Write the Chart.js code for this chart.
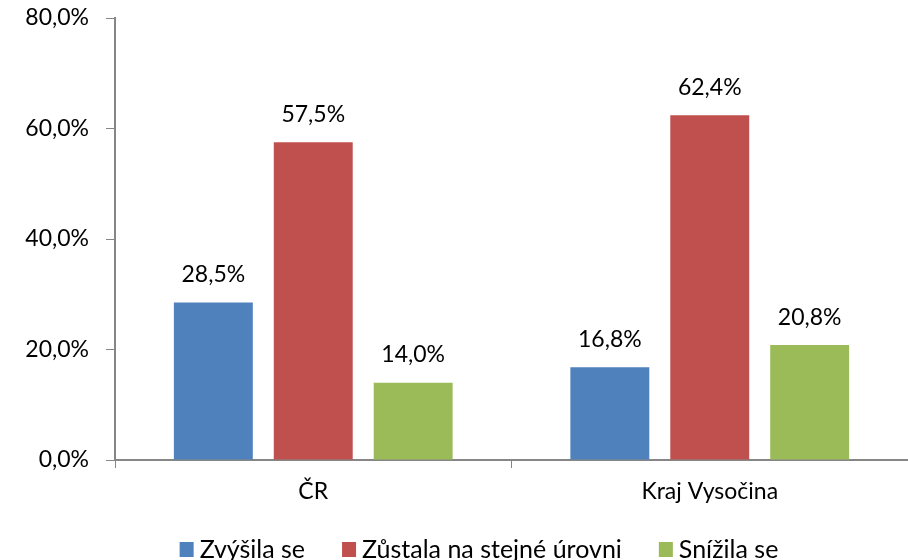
<!DOCTYPE html>
<html><head><meta charset="utf-8">
<script src="https://cdn.jsdelivr.net/npm/chart.js@4"></script>
<style>html,body{margin:0;padding:0;background:#fff}#w{width:908px;height:560px}</style>
</head><body><div id="w"><canvas id="c"></canvas></div>
<script>
const categories = ['ČR', 'Kraj Vysočina'];
const seriesNames = ['Zvýšila se', 'Zůstala na stejné úrovni', 'Snížila se'];
const increased = [28.5, 16.8];
const same = [57.5, 62.4];
const decreased = [14.0, 20.8];
const yTicks = [0, 20, 40, 60, 80];
const colors = ['#4F81BD', '#C0504D', '#9BBB59'];
const FONT = 'Lato, "Open Sans", sans-serif';
const fmt = v => v.toFixed(1).replace('.', ',') + '%';

const labelPlugin = {
  id: 'vals',
  afterDatasetsDraw(chart) {
    const ctx = chart.ctx;
    ctx.save();
    ctx.font = '23px ' + FONT;
    ctx.fillStyle = '#000';
    ctx.textAlign = 'center';
    ctx.textBaseline = 'middle';
    chart.data.datasets.forEach((ds, i) => {
      chart.getDatasetMeta(i).data.forEach((bar, j) => {
        ctx.fillText(fmt(ds.data[j]), bar.x, bar.y - 28);
      });
    });
    ctx.restore();
  }
};

const legendPlugin = {
  id: 'customLegend',
  afterDraw(chart) {
    const ctx = chart.ctx;
    ctx.save();
    ctx.font = '25px ' + FONT;
    ctx.textBaseline = 'middle';
    ctx.textAlign = 'left';
    const box = 14, gapBox = 6, gapItem = 37;
    const widths = chart.data.datasets.map(ds => box + gapBox + ctx.measureText(ds.label).width);
    const total = widths.reduce((a, b) => a + b, 0) + gapItem * (widths.length - 1);
    let x = 479 - total / 2;
    const cy = 549.5;
    chart.data.datasets.forEach((ds, i) => {
      ctx.fillStyle = ds.backgroundColor;
      ctx.fillRect(x, cy - 7.5, box, 15);
      ctx.fillStyle = '#000';
      ctx.fillText(ds.label, x + box + gapBox, cy);
      x += widths[i] + gapItem;
    });
    ctx.restore();
  }
};

new Chart(document.getElementById('c'), {
  type: 'bar',
  data: {
    labels: categories,
    datasets: [increased, same, decreased].map((d, i) => ({
      label: seriesNames[i], data: d, backgroundColor: colors[i],
      borderWidth: 0, barPercentage: 0.79, categoryPercentage: 0.756
    }))
  },
  options: {
    responsive: true, maintainAspectRatio: false, animation: false,
    layout: { padding: { top: 18, right: 0, left: 0, bottom: 40 } },
    plugins: {
      tooltip: { enabled: false },
      legend: { display: false }
    },
    scales: {
      x: {
        grid: { display: true, drawOnChartArea: false, drawTicks: true, tickLength: 8, color: '#868686', offset: true },
        border: { color: '#868686', width: 2 },
        ticks: { font: { family: FONT, size: 23 }, color: '#000', padding: 10 },
        afterFit(s) { s.height = 60; s.paddingLeft = 0; s.paddingRight = 0; }
      },
      y: {
        min: 0, max: 80,
        afterBuildTicks(s) { s.ticks = yTicks.map(v => ({ value: v })); },
        grid: { display: true, drawOnChartArea: false, drawTicks: true, tickLength: 9, color: '#868686' },
        border: { color: '#868686', width: 2 },
        ticks: { font: { family: FONT, size: 23 }, color: '#000', padding: 17, callback: v => fmt(v) },
        afterFit(s) { s.width = 115; s.paddingTop = 0; s.paddingBottom = 0; }
      }
    }
  },
  plugins: [labelPlugin, legendPlugin]
});
</script></body></html>
